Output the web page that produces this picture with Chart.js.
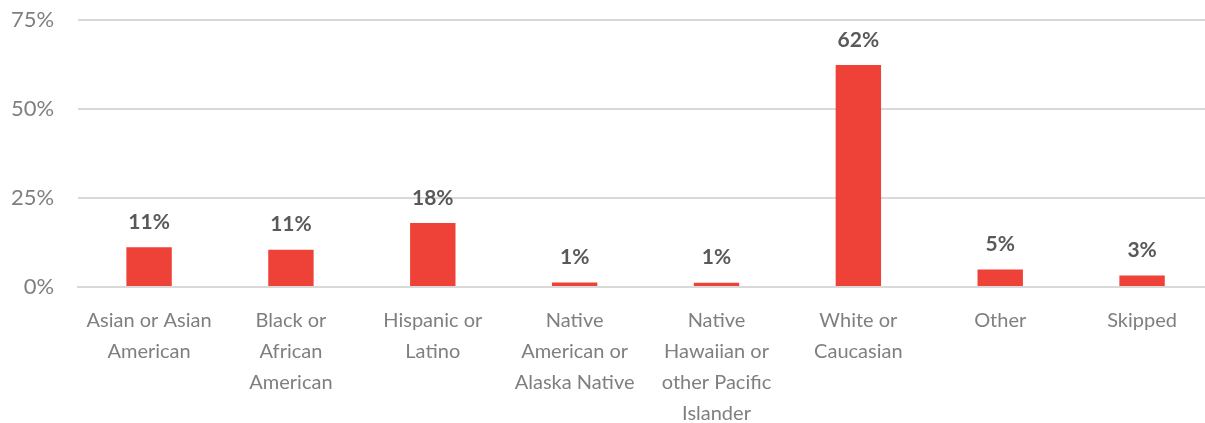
<!DOCTYPE html>
<html>
<head>
<meta charset="utf-8">
<script src="https://cdn.jsdelivr.net/npm/chart.js@4/dist/chart.umd.min.js"></script>
<style>
  html, body { margin:0; padding:0; background:#fff; overflow:hidden; }
  #wrap { width:1213px; height:440px; margin-top:-17px; position:relative; }
</style>
</head>
<body>
<div id="wrap"><canvas id="chart"></canvas></div>
<script>
// Data
const categories = [
  ['Asian or Asian', 'American'],
  ['Black or', 'African', 'American'],
  ['Hispanic or', 'Latino'],
  ['Native', 'American or', 'Alaska Native'],
  ['Native', 'Hawaiian or', 'other Pacific', 'Islander'],
  ['White or', 'Caucasian'],
  'Other',
  'Skipped'
];
const shares = [11.2, 10.5, 18.0, 1.3, 1.2, 62.4, 4.9, 3.2];
const yTicks = [0, 25, 50, 75];

const FONT = "'Lato', 'Open Sans', sans-serif";

// draws rounded value labels above each bar
const valueLabels = {
  id: 'valueLabels',
  afterDatasetsDraw(chart) {
    const ctx = chart.ctx;
    const meta = chart.getDatasetMeta(0);
    ctx.save();
    ctx.font = `bold 21px ${FONT}`;
    ctx.fillStyle = '#595959';
    ctx.textAlign = 'center';
    ctx.textBaseline = 'middle';
    meta.data.forEach((bar, i) => {
      ctx.fillText(Math.round(shares[i]) + '%', bar.x, bar.y - 25);
    });
    ctx.restore();
  }
};

new Chart(document.getElementById('chart'), {
  type: 'bar',
  data: {
    labels: categories,
    datasets: [{
      data: shares,
      backgroundColor: '#ee4137',
      barPercentage: 0.64,
      categoryPercentage: 0.5
    }]
  },
  options: {
    responsive: true,
    maintainAspectRatio: false,
    animation: false,
    layout: { padding: { top: 0, left: -13, right: 0, bottom: -24 } },
    plugins: { legend: { display: false }, tooltip: { enabled: false } },
    scales: {
      x: {
        grid: { display: false, drawTicks: false },
        border: { color: '#d9d9d9', width: 2 },
        ticks: {
          color: '#7f7f7f',
          padding: 18,
          maxRotation: 0,
          autoSkip: false,
          font: { family: FONT, size: 20, lineHeight: 1.55 }
        }
      },
      y: {
        min: 0, max: 75,
        afterBuildTicks: axis => { axis.ticks = yTicks.map(v => ({ value: v })); },
        grid: { color: '#d9d9d9', lineWidth: 2, drawTicks: false },
        border: { display: false },
        ticks: {
          color: '#7f7f7f',
          padding: 24,
          font: { family: FONT, size: 22 },
          callback: v => v + '%'
        }
      }
    }
  },
  plugins: [valueLabels]
});
</script>
</body>
</html>
